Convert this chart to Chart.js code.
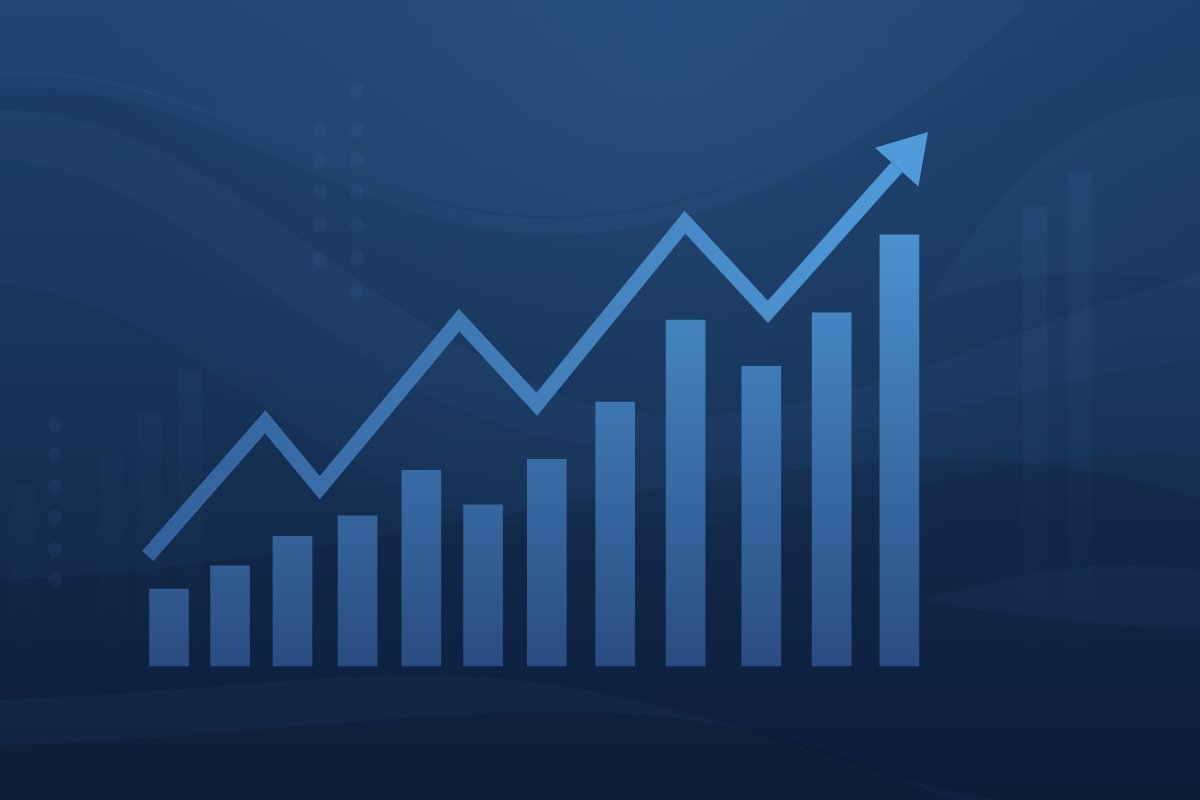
<!DOCTYPE html>
<html>
<head>
<meta charset="utf-8">
<script src="https://cdn.jsdelivr.net/npm/chart.js@4"></script>
<style>
  html, body { margin: 0; padding: 0; background: #132b50; overflow: hidden; }
  canvas { display: block; }
</style>
</head>
<body>
<canvas id="growthChart" width="1200" height="800"></canvas>
<script>
// bars (periods placed along a linear time axis)
const periods = ["P1", "P2", "P3", "P4", "P5", "P6", "P7", "P8", "P9", "P10", "P11", "P12"];
const barX = [1.00, 1.92, 2.86, 3.84, 4.80, 5.73, 6.69, 7.72, 8.78, 9.92, 10.98, 12.00];
const barValues = [14.0, 18.2, 23.6, 27.3, 35.6, 29.3, 37.6, 48.0, 62.9, 54.5, 64.2, 78.4];

// trend arrow vertices
const trendX = [0.68, 2.45, 3.27, 5.37, 6.54, 8.77, 10.02, 11.96];
const trendY = [20.0, 44.4, 32.4, 62.9, 47.6, 80.7, 64.4, 90.7];

// faint bars in the background
const ghostX = [-1.20, 0.13, 0.71, 1.32, 14.04, 14.72];
const ghostY = [32.9, 38.4, 46.5, 53.8, 83.5, 89.8];

const toPoints = (xs, ys) => xs.map((x, i) => ({ x: x, y: ys[i] }));

const backdrop = {
    id: "backdrop",
    beforeDraw(chart) {
        const ctx = chart.ctx;
        const w = chart.width, h = chart.height;
        ctx.save();

        let g = ctx.createLinearGradient(0, 0, 0, h);
        g.addColorStop(0, "#1d3f6b");
        g.addColorStop(0.45, "#173459");
        g.addColorStop(1, "#0e1f3d");
        ctx.fillStyle = g;
        ctx.fillRect(0, 0, w, h);

        let r = ctx.createRadialGradient(660, 60, 20, 660, 60, 560);
        r.addColorStop(0, "rgba(60,110,170,0.22)");
        r.addColorStop(1, "rgba(60,110,170,0)");
        ctx.fillStyle = r;
        ctx.fillRect(0, 0, w, h);

        // top dome
        ctx.fillStyle = "rgba(90,140,200,0.08)";
        ctx.beginPath();
        ctx.moveTo(0, 75);
        ctx.bezierCurveTo(200, 65, 330, 200, 520, 215);
        ctx.bezierCurveTo(720, 230, 900, 110, 1010, 0);
        ctx.lineTo(0, 0);
        ctx.closePath();
        ctx.fill();

        // thin arc lighter edge
        ctx.strokeStyle = "rgba(110,160,220,0.06)";
        ctx.lineWidth = 16;
        ctx.beginPath();
        ctx.moveTo(0, 80);
        ctx.bezierCurveTo(200, 70, 330, 210, 520, 225);
        ctx.bezierCurveTo(720, 240, 900, 120, 1020, 0);
        ctx.stroke();

        // sweeping ribbon across the middle
        ctx.fillStyle = "rgba(80,130,195,0.07)";
        ctx.beginPath();
        ctx.moveTo(0, 110);
        ctx.bezierCurveTo(200, 110, 330, 300, 560, 395);
        ctx.bezierCurveTo(760, 470, 980, 330, 1200, 275);
        ctx.lineTo(1200, 360);
        ctx.bezierCurveTo(1000, 380, 800, 480, 560, 440);
        ctx.bezierCurveTo(330, 400, 200, 170, 0, 160);
        ctx.closePath();
        ctx.fill();

        ctx.fillStyle = "rgba(80,130,195,0.04)";
        ctx.beginPath();
        ctx.moveTo(0, 160);
        ctx.bezierCurveTo(200, 170, 330, 400, 560, 440);
        ctx.bezierCurveTo(800, 480, 1000, 380, 1200, 360);
        ctx.lineTo(1200, 455);
        ctx.bezierCurveTo(1000, 440, 800, 540, 560, 530);
        ctx.bezierCurveTo(330, 520, 200, 300, 0, 285);
        ctx.closePath();
        ctx.fill();

        // upper right lighter sweep
        ctx.fillStyle = "rgba(80,130,195,0.06)";
        ctx.beginPath();
        ctx.moveTo(930, 300);
        ctx.bezierCurveTo(1020, 270, 1120, 260, 1200, 290);
        ctx.lineTo(1200, 95);
        ctx.bezierCurveTo(1080, 100, 1000, 180, 930, 300);
        ctx.closePath();
        ctx.fill();

        // dark lower band
        ctx.fillStyle = "rgba(5,15,35,0.14)";
        ctx.beginPath();
        ctx.moveTo(0, 580);
        ctx.bezierCurveTo(300, 570, 600, 480, 900, 460);
        ctx.bezierCurveTo(1050, 455, 1150, 480, 1200, 500);
        ctx.lineTo(1200, 800);
        ctx.lineTo(0, 800);
        ctx.closePath();
        ctx.fill();

        // bottom waves
        ctx.fillStyle = "rgba(80,130,195,0.06)";
        ctx.beginPath();
        ctx.moveTo(0, 700);
        ctx.bezierCurveTo(250, 690, 380, 660, 560, 685);
        ctx.bezierCurveTo(760, 720, 900, 790, 1000, 800);
        ctx.lineTo(0, 800);
        ctx.closePath();
        ctx.fill();

        ctx.fillStyle = "rgba(5,15,35,0.2)";
        ctx.beginPath();
        ctx.moveTo(0, 745);
        ctx.bezierCurveTo(250, 740, 450, 700, 650, 715);
        ctx.bezierCurveTo(800, 730, 900, 780, 950, 800);
        ctx.lineTo(0, 800);
        ctx.closePath();
        ctx.fill();

        ctx.fillStyle = "rgba(80,130,195,0.05)";
        ctx.beginPath();
        ctx.moveTo(920, 600);
        ctx.bezierCurveTo(1000, 580, 1080, 555, 1200, 570);
        ctx.lineTo(1200, 630);
        ctx.bezierCurveTo(1100, 625, 1000, 615, 920, 600);
        ctx.closePath();
        ctx.fill();

        // dotted columns
        ctx.fillStyle = "rgba(110,160,220,0.07)";
        [90, 130, 160, 192, 225, 258, 290].forEach(y => {
            ctx.beginPath(); ctx.ellipse(357, y, 7, 8, 0, 0, Math.PI * 2); ctx.fill();
        });
        [130, 160, 192, 225, 258].forEach(y => {
            ctx.beginPath(); ctx.ellipse(320, y, 7, 8, 0, 0, Math.PI * 2); ctx.fill();
        });
        [425, 455, 487, 518, 550, 580].forEach(y => {
            ctx.beginPath(); ctx.ellipse(55, y, 7, 8, 0, 0, Math.PI * 2); ctx.fill();
        });

        ctx.restore();
    }
};

const arrowHead = {
    id: "arrowHead",
    afterDatasetsDraw(chart) {
        const pts = chart.getDatasetMeta(0).data;
        const a = pts[pts.length - 2], b = pts[pts.length - 1];
        const dx = b.x - a.x, dy = b.y - a.y;
        const len = Math.hypot(dx, dy);
        const ux = dx / len, uy = dy / len;
        const headLen = 47, halfW = 29;
        const ctx = chart.ctx;
        ctx.save();
        ctx.fillStyle = "#4f9ad8";
        ctx.beginPath();
        ctx.moveTo(b.x + ux * headLen, b.y + uy * headLen);
        ctx.lineTo(b.x - uy * halfW, b.y + ux * halfW);
        ctx.lineTo(b.x + uy * halfW, b.y - ux * halfW);
        ctx.closePath();
        ctx.fill();
        ctx.restore();
    }
};

function barFill(context) {
    const area = context.chart.chartArea;
    if (!area) return "#3a6fae";
    const ctx = context.chart.ctx;
    const y = context.chart.scales.y;
    const g = ctx.createLinearGradient(0, y.getPixelForValue(80), 0, y.getPixelForValue(0));
    g.addColorStop(0, "#4b93d1");
    g.addColorStop(1, "#2a4c82");
    return g;
}

function ghostFill(context) {
    const area = context.chart.chartArea;
    if (!area) return "rgba(90,140,200,0.06)";
    const ctx = context.chart.ctx;
    const y = context.chart.scales.y;
    const g = ctx.createLinearGradient(0, y.getPixelForValue(90), 0, y.getPixelForValue(0));
    g.addColorStop(0, "rgba(90,140,200,0.08)");
    g.addColorStop(1, "rgba(90,140,200,0.0)");
    return g;
}

function lineStroke(context) {
    const area = context.chart.chartArea;
    if (!area) return "#4585c2";
    const ctx = context.chart.ctx;
    const x = context.chart.scales.x;
    const g = ctx.createLinearGradient(x.getPixelForValue(0.7), 0, x.getPixelForValue(12), 0);
    g.addColorStop(0, "#33609b");
    g.addColorStop(1, "#4f9ad8");
    return g;
}

new Chart(document.getElementById("growthChart"), {
    data: {
        datasets: [
            {
                type: "line",
                label: "Trend",
                data: toPoints(trendX, trendY),
                borderColor: lineStroke,
                borderWidth: 15,
                borderJoinStyle: "miter",
                borderCapStyle: "butt",
                pointRadius: 0,
                tension: 0,
                fill: false,
                order: 0
            },
            {
                type: "bar",
                label: "Growth",
                data: toPoints(barX, barValues),
                backgroundColor: barFill,
                barThickness: 39,
                grouped: false,
                borderWidth: 0,
                order: 1
            },
            {
                type: "bar",
                label: "Ghost",
                data: toPoints(ghostX, ghostY),
                backgroundColor: ghostFill,
                barThickness: 24,
                grouped: false,
                borderWidth: 0,
                order: 2
            }
        ]
    },
    options: {
        responsive: false,
        animation: false,
        layout: { padding: 0 },
        plugins: { legend: { display: false }, tooltip: { enabled: false } },
        scales: {
            x: { type: "linear", offset: false, min: -1.545, max: 16.527, display: false },
            y: { min: -24.36, max: 121.09, display: false }
        }
    },
    plugins: [backdrop, arrowHead]
});
</script>
</body>
</html>
